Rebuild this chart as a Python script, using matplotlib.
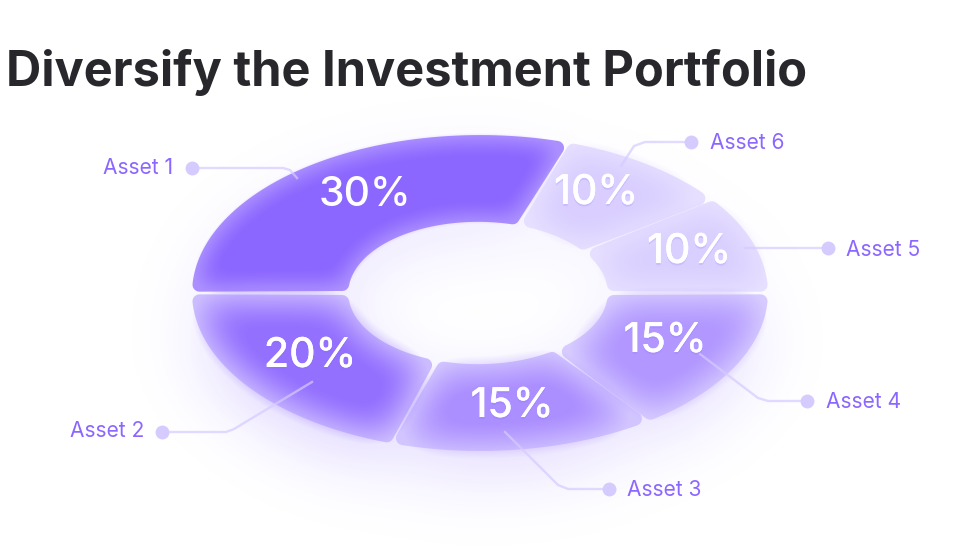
#Import libraries
import numpy as np
import matplotlib
matplotlib.use('Agg')
import matplotlib.pyplot as plt
from matplotlib.patches import Polygon
import matplotlib.patheffects as pe

plt.rcParams['font.family'] = ['Inter', 'DejaVu Sans']

# data, clockwise from the left side of the ring
labels = ['Asset 1', 'Asset 6', 'Asset 5', 'Asset 4', 'Asset 3', 'Asset 2']
values = [30, 10, 10, 15, 15, 20]

# colours of each slice: rim, centre, and strength of the glow under it
rim_colors = ['#AB8FFF', '#E6DFFF', '#E6DFFF', '#D6CAFF', '#D2C5FF', '#CBBBFF']
mid_colors = ['#8B66FF', '#D9CEFF', '#DAD0FF', '#B197FF', '#AB8EFF', '#9470FF']
soft_size = [11, 16, 16, 18, 18, 18]
glow = [0.15, 0.07, 0.07, 0.22, 0.25, 0.28]

# layout in pixels
W, H = 960, 560
cx, cy, a, b = 480, 293, 288, 158
inner = 0.45
hole_shift = -2
pct_pos = [(365, 195), (596, 193), (689, 252), (665, 341), (512, 406), (310, 356)]
leaders = [
    [(192, 168), (283, 168), (290, 170), (297, 178)],
    [(691, 142), (645, 142), (634, 146), (621, 166)],
    [(828, 248), (745, 248)],
    [(807, 401), (768, 401), (758, 398), (700, 354)],
    [(609, 489), (568, 489), (558, 485), (505, 432)],
    [(162, 432), (226, 432), (234, 429), (312, 382)],
]
label_pos = [(173, 168, 'right'), (710, 143, 'left'), (846, 250, 'left'),
             (826, 402, 'left'), (627, 490, 'left'), (144, 431, 'right')]


def blur(img, sigma):
    fy = np.fft.fftfreq(img.shape[0])[:, None]
    fx = np.fft.rfftfreq(img.shape[1])[None, :]
    kernel = np.exp(-2 * (np.pi * sigma) ** 2 * (fx ** 2 + fy ** 2))
    return np.fft.irfft2(np.fft.rfft2(img) * kernel, s=img.shape)


def rgb(c):
    return np.array(matplotlib.colors.to_rgb(c))


def ring_slice(t1, t2, gap=8.5, corner=7.0):
    # outline of one slice in ring units, pulled in so the stroke rounds it
    n = 80
    def pt(r, t):
        return r * np.cos(t), r * np.sin(t)
    def tang(t):
        return np.hypot(a * np.sin(t), b * np.cos(t))
    def rad(t):
        return corner * np.hypot(np.cos(t) / a, np.sin(t) / b)
    d1 = gap / tang(np.radians(t1))
    d2 = gap / tang(np.radians(t2))
    ts = np.linspace(np.radians(t1) - d1, np.radians(t2) + d2, n)
    ro = 1 - rad(ts)
    xo, yo = pt(ro, ts)
    ts2 = np.linspace(np.radians(t2) + d2 / inner, np.radians(t1) - d1 / inner, n)
    ri = inner + rad(ts2)
    xi, yi = pt(ri, ts2)
    xi = xi + hole_shift / a
    return np.column_stack([np.r_[xo, xi], np.r_[yo, yi]])


fig = plt.figure(figsize=(W / 100, H / 100), dpi=100, facecolor='white')
ax = fig.add_axes([0, 0, 1, 1])
ax.set_xlim(-cx / a, (W - cx) / a)
ax.set_ylim(-(H - cy) / b, cy / b)
ax.axis('off')

# pixel grid for masks
px, py = np.meshgrid(np.arange(W) + 0.5, np.arange(H) + 0.5)
pts = np.column_stack([px.ravel(), py.ravel()])
extent = (ax.get_xlim()[0], ax.get_xlim()[1], ax.get_ylim()[0], ax.get_ylim()[1])

angle = 180.0
slices = []
for v in values:
    t1 = angle
    t2 = angle - v * 3.6
    slices.append((t1, t2))
    angle = t2

glow_rgba = np.zeros((H, W))
purple = rgb('#8B66FF')
for i, (t1, t2) in enumerate(slices):
    poly = ring_slice(t1, t2)
    patch = Polygon(poly, closed=True, facecolor=rim_colors[i], edgecolor=rim_colors[i],
                    linewidth=10, joinstyle='round', zorder=3)
    ax.add_patch(patch)

    disp = ax.transData.transform(poly)
    mask = matplotlib.path.Path(disp).contains_points(pts).reshape(H, W).astype(float)
    glow_rgba += glow[i] * blur(np.roll(mask, -24, axis=0), 36)
    # inner colour fades out before the rim
    bl = blur(mask, soft_size[i])
    soft = np.clip((bl - 0.2) / (bl.max() * 0.92 - 0.2), 0, 1)
    over = np.zeros((H, W, 4))
    over[..., :3] = rgb(mid_colors[i])
    over[..., 3] = soft
    ax.imshow(over, origin='lower', extent=extent, aspect='auto', zorder=4, interpolation='bilinear')

shadow = np.zeros((H, W, 4))
shadow[..., :3] = purple
shadow[..., 3] = np.clip(glow_rgba * 1.1, 0, 1)
ax.imshow(shadow, origin='lower', extent=extent, aspect='auto', zorder=1, interpolation='bilinear')
ax.set_xlim(extent[0], extent[1])
ax.set_ylim(extent[2], extent[3])

# overlay in pixels for text and leader lines
top = fig.add_axes([0, 0, 1, 1])
top.set_xlim(0, W)
top.set_ylim(H, 0)
top.axis('off')
top.patch.set_alpha(0)

for i, line in enumerate(leaders):
    xs = [p[0] for p in line]
    ys = [p[1] for p in line]
    top.plot(xs, ys, color='#D6CBFF', alpha=0.7, linewidth=1.7, solid_joinstyle='round', zorder=5)
    top.plot(xs[0], ys[0], 'o', color='#D6CBFF', markersize=10, markeredgewidth=0, zorder=6)
    lx, ly, ha = label_pos[i]
    top.text(lx, ly, labels[i], color='#8B66FF', fontsize=15.1, ha=ha, va='center', zorder=7)

for i, v in enumerate(values):
    t = top.text(pct_pos[i][0], pct_pos[i][1], f'{v}%', color='white', fontsize=29.5,
                 fontweight='medium', ha='center', va='center', zorder=8)
    if i > 0:
        t.set_path_effects([pe.withSimplePatchShadow(offset=(0, -1.5), shadow_rgbFace='#8B66FF', alpha=0.18),
                            pe.Normal()])

top.text(6, 72, 'Diversify the Investment Portfolio', color='#27272C', fontsize=35.1,
         fontweight='bold', ha='left', va='center')

fig.savefig('out.png', dpi=100)
